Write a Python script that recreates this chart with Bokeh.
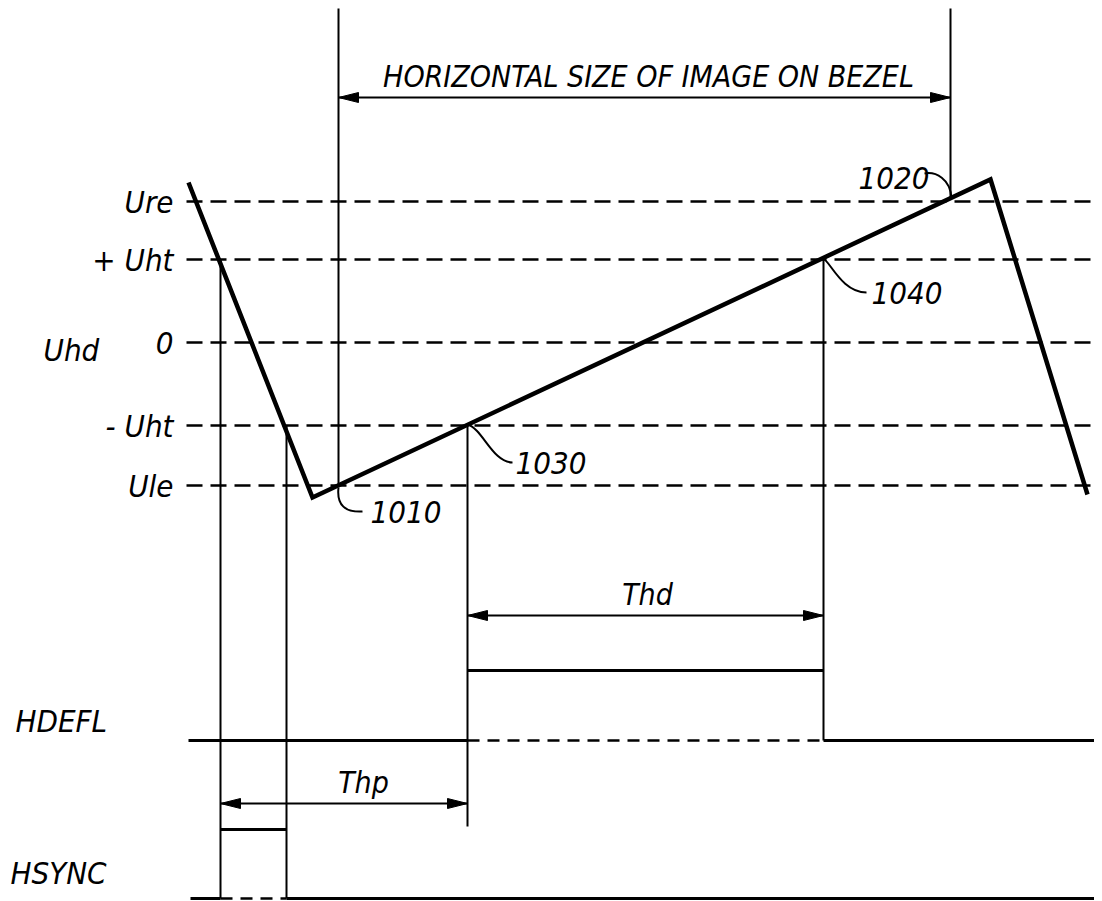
from bokeh.plotting import figure
from bokeh.models import Range1d
from bokeh.core.properties import value
from bokeh.embed import file_html
from bokeh.resources import INLINE

FONT = "Liberation Sans Narrow, DejaVu Sans Condensed, Liberation Sans, sans-serif"

# ---- levels of the deflection voltage Uhd ----
level_labels = ["Ure", "+ Uht", "0", "- Uht", "Ule"]
level_y = [201, 259, 342, 425, 485]
level_x0 = 186
right_x = 1102

# ---- sawtooth deflection voltage ----
saw_x = [188, 312, 990, 1087]
saw_y = [182, 497, 179, 494]

# ---- vertical guide lines (x, top, bottom) ----
guide_x = [220, 286, 338, 950, 467, 823]
guide_top = [259, 425, 8, 8, 425, 259]
guide_bot = [898, 898, 485, 199, 826, 740]

# ---- HDEFL signal ----
hdefl_low = 740
hdefl_high = 670
hdefl_start, hdefl_rise, hdefl_fall = 188, 467, 823

# ---- HSYNC signal ----
hsync_low = 898
hsync_high = 829
hsync_start, hsync_rise, hsync_fall = 190, 220, 286

# ---- dimension arrows ----
arrow_labels = ["HORIZONTAL SIZE OF IMAGE ON BEZEL", "Thd", "Thp"]
arrow_x0 = [338, 467, 220]
arrow_x1 = [950, 823, 467]
arrow_y = [97, 615, 803]
arrow_label_x = [648, 647, 363]

# ---- reference numerals and leaders ----
ref_labels = ["1010", "1030", "1020", "1040"]
ref_x = [370, 515, 858, 871]
ref_y = [511, 462, 177, 292]
lead_x0 = [338, 467, 951, 823]
lead_y0 = [487, 424, 198, 258]
lead_cx0 = [336, 482, 950, 830]
lead_cy0 = [505, 428, 178, 262]
lead_cx1 = [345, 492, 935, 842]
lead_cy1 = [512, 462, 171, 292]
lead_x1 = [362, 512, 924, 866]
lead_y1 = [511, 462, 173, 292]

# ---- side labels ----
side_labels = ["Uhd", "HDEFL", "HSYNC"]
side_x = [43, 15, 10]
side_y = [349, 720, 872]

p = figure(width=1094, height=901, output_backend="svg", toolbar_location=None,
           x_range=Range1d(0, 1094), y_range=Range1d(901, 0),
           min_border=0, border_fill_color="white", background_fill_color="white")
p.axis.visible = False
p.grid.visible = False
p.outline_line_color = None

# dashed level lines
p.multi_line(xs=[[level_x0, right_x] for _ in level_y], ys=[[y, y] for y in level_y],
             line_color="black", line_width=2.5, line_dash="16 8")
p.text(x=[173] * len(level_y), y=level_y, text=level_labels, text_font=value(FONT),
       text_font_style="italic", text_font_size="31px", text_align="right",
       text_baseline="middle", text_color="black")

# guides
p.segment(x0=guide_x, y0=guide_top, x1=guide_x, y1=guide_bot, line_color="black", line_width=2)

# sawtooth
p.line(saw_x, saw_y, line_color="black", line_width=4.5, line_join="miter")

# HDEFL
p.line([hdefl_start, hdefl_rise], [hdefl_low, hdefl_low], line_color="black", line_width=3)
p.line([hdefl_rise, hdefl_fall], [hdefl_low, hdefl_low], line_color="black", line_width=2.5, line_dash="12 8")
p.line([hdefl_fall, right_x], [hdefl_low, hdefl_low], line_color="black", line_width=3)
p.line([hdefl_rise, hdefl_fall], [hdefl_high, hdefl_high], line_color="black", line_width=3)

# HSYNC
p.line([hsync_start, hsync_rise], [hsync_low, hsync_low], line_color="black", line_width=3)
p.line([hsync_rise, hsync_fall], [hsync_low, hsync_low], line_color="black", line_width=2.5, line_dash="12 8")
p.line([hsync_fall, right_x], [hsync_low, hsync_low], line_color="black", line_width=3)
p.line([hsync_rise, hsync_fall], [hsync_high, hsync_high], line_color="black", line_width=3)

# arrows
p.segment(x0=arrow_x0, y0=arrow_y, x1=arrow_x1, y1=arrow_y, line_color="black", line_width=2)
head_len, head_half = 20, 5
hx, hy = [], []
for xa, xb, ya in zip(arrow_x0, arrow_x1, arrow_y):
    hx.append([xa, xa + head_len, xa + head_len])
    hy.append([ya, ya - head_half, ya + head_half])
    hx.append([xb, xb - head_len, xb - head_len])
    hy.append([ya, ya - head_half, ya + head_half])
p.patches(hx, hy, fill_color="black", line_color="black", line_width=1)
p.text(x=arrow_label_x, y=[y - 4 for y in arrow_y], text=arrow_labels, text_font=value(FONT),
       text_font_style="italic", text_font_size="30px", text_align="center",
       text_baseline="bottom", text_color="black")

# reference numerals
p.bezier(x0=lead_x0, y0=lead_y0, x1=lead_x1, y1=lead_y1, cx0=lead_cx0, cy0=lead_cy0,
         cx1=lead_cx1, cy1=lead_cy1, line_color="black", line_width=2)
p.text(x=ref_x, y=ref_y, text=ref_labels, text_font=value(FONT), text_font_style="italic",
       text_font_size="31px", text_align="left", text_baseline="middle", text_color="black")

# side labels
p.text(x=side_x, y=side_y, text=side_labels, text_font=value(FONT), text_font_style="italic",
       text_font_size="31px", text_align="left", text_baseline="middle", text_color="black")

open("out.html", "w").write(file_html(p, INLINE))
